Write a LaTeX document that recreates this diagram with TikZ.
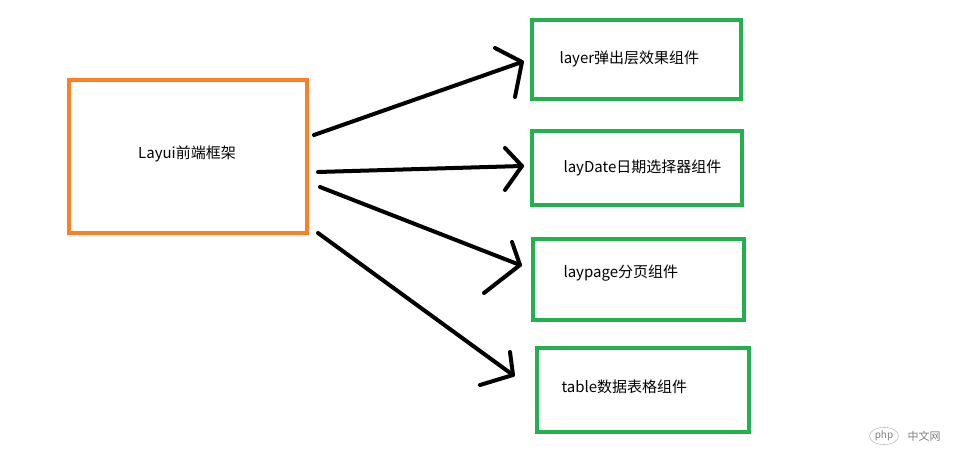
\documentclass[tikz,border=0pt]{standalone}
\usepackage{fontspec}
\usetikzlibrary{shapes.geometric}
\setmainfont{Noto Sans CJK SC}
\begin{document}
\begin{tikzpicture}[x=1pt,y=-1pt,
  ob/.style={draw={rgb,255:red,255;green,127;blue,39},line width=4pt},
  gb/.style={draw={rgb,255:red,34;green,177;blue,76},line width=3.5pt},
  ar/.style={line width=4pt,line cap=round,line join=round},
  lb/.style={font=\fontsize{15pt}{17pt}\selectfont,anchor=west}]
\useasboundingbox (0,0) rectangle (964,468);
\draw[ob] (69,80) rectangle (307,233);
\node[font=\fontsize{15pt}{17pt}\selectfont] (m) at (187,154) {Layui前端框架};
\draw[gb] (532,20) rectangle (741,99);
\draw[gb] (532,131) rectangle (742,205);
\draw[gb] (533,239) rectangle (744,320);
\draw[gb] (537,348) rectangle (749,432);
\node[lb] (a) at (556,59) {layer弹出层效果组件};
\node[lb] (b) at (560,168) {layDate日期选择器组件};
\node[lb] (c) at (560,273) {laypage分页组件};
\node[lb] (d) at (558,387) {table数据表格组件};
\coordinate (t1) at (522,62); \coordinate (t2) at (522,166);
\coordinate (t3) at (520,265); \coordinate (t4) at (513,375);
\draw[ar] (314,135) -- (t1);
\draw[ar] (495,48) -- (t1) -- (515,97);
\draw[ar] (318,172) -- (t2);
\draw[ar] (505,148) -- (t2) -- (505,190);
\draw[ar] (320,187) -- (t3);
\draw[ar] (512,242) -- (t3) -- (484,293);
\draw[ar] (318,233) -- (t4);
\draw[ar] (510,352) -- (t4) -- (480,385);
\node[draw=gray!70,ellipse,inner sep=1pt,text=gray,font=\fontsize{10pt}{11pt}\selectfont\itshape] (w1) at (884,436) {php};
\node[text=gray,font=\fontsize{11pt}{12pt}\selectfont,anchor=west] (w2) at (904,436) {中文网};
\end{tikzpicture}
\end{document}
